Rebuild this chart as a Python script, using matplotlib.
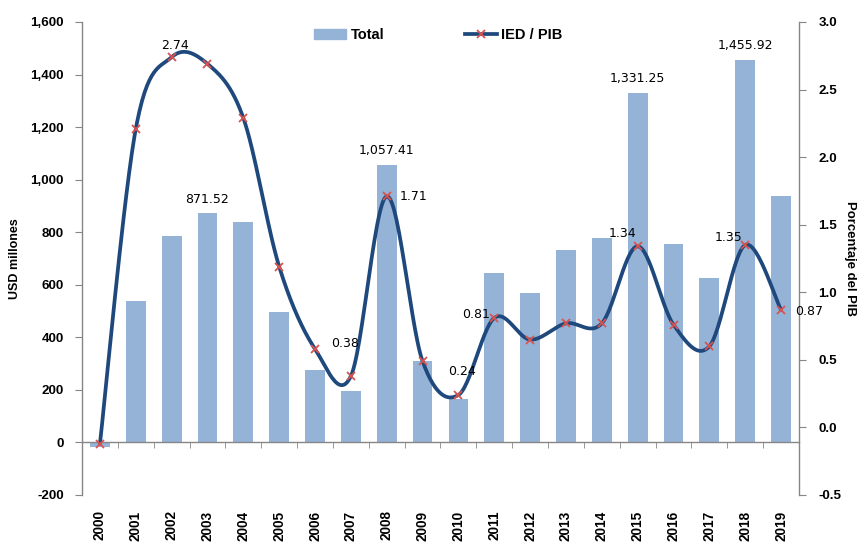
import matplotlib
matplotlib.use('Agg')
import matplotlib.pyplot as plt
from matplotlib import font_manager
from matplotlib.lines import Line2D
from matplotlib.patches import Patch
from matplotlib.ticker import FuncFormatter
import numpy as np

years = [str(y) for y in range(2000, 2020)]
total = [-18, 540, 787, 871.52, 839, 495, 276, 197, 1057.41, 310,
         167, 646, 570, 731, 777, 1331.25, 757, 626, 1455.92, 936]
ied_pib = [-0.12, 2.21, 2.74, 2.69, 2.29, 1.19, 0.58, 0.38, 1.71, 0.49,
           0.24, 0.81, 0.65, 0.77, 0.77, 1.34, 0.76, 0.60, 1.35, 0.87]

# which points carry a value label
bar_label_idx = [3, 8, 15, 18]
line_label_idx = [2, 7, 8, 10, 11, 15, 18, 19]

BAR_COLOR = '#95B3D7'
LINE_COLOR = '#1F497D'
MARK_COLOR = '#D9534F'
GRAY = '#868686'


def has_font(name):
    try:
        font_manager.findfont(name, fallback_to_default=False)
        return True
    except Exception:
        return False


if has_font('Liberation Sans Narrow'):
    NARROW = ['Liberation Sans Narrow', 'DejaVu Sans']
    narrow_scale = 1.0
else:
    NARROW = ['Liberation Sans', 'DejaVu Sans']
    narrow_scale = 0.82
REGULAR = ['Liberation Sans', 'DejaVu Sans']


def smooth(xs, ys, n=30):
    # bezier smoothing like the spreadsheet "smoothed line"
    pts = np.column_stack([xs, ys]).astype(float)
    p = np.vstack([pts[0], pts, pts[-1]])
    out = []
    t = np.linspace(0, 1, n)[:, None]
    for i in range(len(pts) - 1):
        p0, p1, p2, p3 = p[i], p[i + 1], p[i + 2], p[i + 3]
        c1 = p1 + (p2 - p0) / 6
        c2 = p2 - (p3 - p1) / 6
        seg = (1 - t) ** 3 * p1 + 3 * (1 - t) ** 2 * t * c1 + 3 * (1 - t) * t ** 2 * c2 + t ** 3 * p2
        out.append(seg if i == 0 else seg[1:])
    return np.vstack(out)


def main():
    x = np.arange(len(years))

    fig = plt.figure(figsize=(8.58, 5.43), dpi=100)
    ax = fig.add_axes([0.0956, 0.0884, 0.8356, 0.8711])

    ax.bar(x, total, width=0.55, color=BAR_COLOR, zorder=2)
    ax.set_xlim(-0.5, len(years) - 0.5)
    ax.set_ylim(-200, 1600)
    ax.set_yticks(range(-200, 1601, 200))
    ax.yaxis.set_major_formatter(FuncFormatter(lambda v, p: '{:,.0f}'.format(v)))

    for s in ['top', 'right']:
        ax.spines[s].set_visible(False)
    ax.spines['bottom'].set_position(('data', 0))
    for s in ['left', 'bottom']:
        ax.spines[s].set_color(GRAY)
        ax.spines[s].set_linewidth(1.0)

    ax.set_xticks(x)
    ax.set_xticklabels(years, rotation=90, fontweight='bold',
                       family=NARROW, fontsize=12 * narrow_scale)
    ax.set_xticks(np.arange(0.5, len(years) - 0.5, 1), minor=True)
    ax.tick_params(axis='x', which='major', length=0, pad=49)
    ax.tick_params(axis='x', which='minor', length=4, color=GRAY)
    ax.tick_params(axis='y', length=5, color=GRAY, pad=8)
    for lab in ax.get_yticklabels():
        lab.set_fontweight('bold')
        lab.set_family(REGULAR)
        lab.set_fontsize(9.6)

    ax.set_ylabel('USD millones', fontweight='bold', family=NARROW,
                  fontsize=11 * narrow_scale, labelpad=7)

    for i in bar_label_idx:
        ax.annotate('{:,.2f}'.format(total[i]), (x[i], total[i]),
                    xytext=(0, 14), textcoords='offset pixels',
                    ha='center', va='center', fontsize=9, family='DejaVu Sans')

    ax2 = ax.twinx()
    ax2.set_ylim(-0.5, 3.0)
    ax2.set_yticks(np.arange(-0.5, 3.01, 0.5))
    ax2.yaxis.set_major_formatter(FuncFormatter(lambda v, p: '{:.1f}'.format(v)))
    for s in ['top', 'left', 'bottom']:
        ax2.spines[s].set_visible(False)
    ax2.spines['right'].set_color(GRAY)
    ax2.spines['right'].set_linewidth(1.0)
    ax2.tick_params(axis='y', length=5, color=GRAY, pad=9)
    for lab in ax2.get_yticklabels():
        lab.set_fontweight('bold')
        lab.set_family(REGULAR)
        lab.set_fontsize(9.6)
    ax2.set_ylabel('Porcentaje del PIB', fontweight='bold', family=NARROW,
                   fontsize=11.5 * narrow_scale, rotation=270, labelpad=6,
                   va='center')

    curve = smooth(x, ied_pib)
    ax2.plot(curve[:, 0], curve[:, 1], color=LINE_COLOR, lw=2.7, zorder=3,
             solid_capstyle='round')
    ax2.plot(x, ied_pib, ls='none', marker='x', ms=6, mew=1.3,
             color=MARK_COLOR, zorder=4)

    # label offsets in pixels: dx, dy, ha
    offsets = {2: (3, 12, 'center'), 7: (-6, 33, 'center'), 8: (13, 0, 'left'),
               10: (4, 23, 'center'), 11: (-4, 3, 'right'), 15: (-15, 13, 'center'),
               18: (-3, 7, 'right'), 19: (14, -2, 'left')}
    for i in line_label_idx:
        dx, dy, ha = offsets[i]
        ax2.annotate('{:.2f}'.format(ied_pib[i]), (x[i], ied_pib[i]),
                     xytext=(dx, dy), textcoords='offset pixels',
                     ha=ha, va='center', fontsize=9, family='DejaVu Sans',
                     annotation_clip=False)

    handles = [Patch(color=BAR_COLOR),
               Line2D([], [], color=LINE_COLOR, lw=2.7, marker='x', ms=6,
                      mew=1.3, markeredgecolor=MARK_COLOR)]
    ax2.legend(handles, ['Total', 'IED / PIB'], loc='center',
               bbox_to_anchor=(0.497, 0.972), ncol=2, frameon=False,
               handlelength=2.2, handletextpad=0.3, columnspacing=5.5,
               prop={'family': REGULAR, 'weight': 'bold', 'size': 10.5})

    fig.savefig('out.png', dpi=100)


if __name__ == '__main__':
    main()
